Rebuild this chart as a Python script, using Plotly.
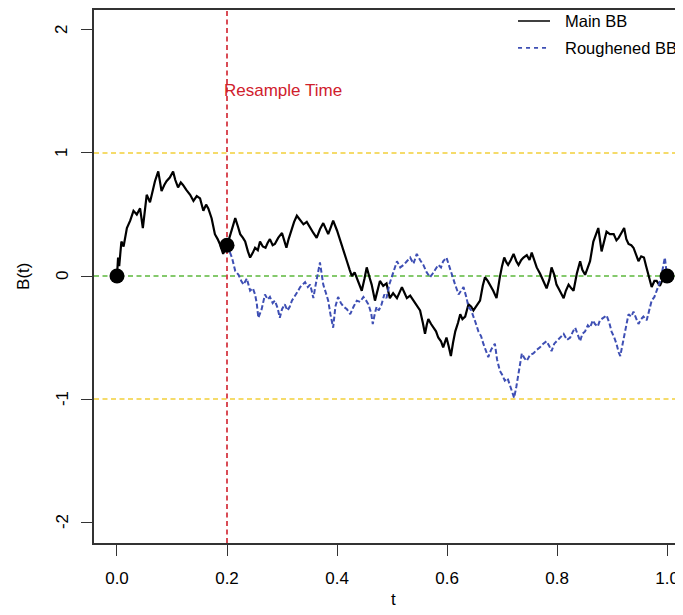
import plotly.graph_objects as go

# ---- data ----
t_main = [
    0, 0.002, 0.004, 0.008, 0.012, 0.018, 0.024, 0.03, 0.036, 0.042,
    0.047, 0.051, 0.054, 0.06, 0.065, 0.069, 0.075, 0.078, 0.081, 0.086,
    0.09, 0.096, 0.102, 0.106, 0.111, 0.116, 0.12, 0.126, 0.133, 0.139,
    0.145, 0.151, 0.157, 0.162, 0.166, 0.172, 0.178, 0.183, 0.187, 0.193,
    0.2, 0.205, 0.21, 0.215, 0.22, 0.224, 0.229, 0.233, 0.238, 0.242,
    0.247, 0.251, 0.256, 0.26, 0.265, 0.27, 0.274, 0.278, 0.283, 0.287,
    0.293, 0.3, 0.304, 0.308, 0.312, 0.317, 0.322, 0.327, 0.333, 0.339,
    0.345, 0.351, 0.357, 0.363, 0.369, 0.375, 0.38, 0.384, 0.389, 0.393,
    0.4, 0.406, 0.412, 0.418, 0.423, 0.427, 0.432, 0.436, 0.441, 0.445,
    0.45, 0.454, 0.459, 0.463, 0.469, 0.474, 0.478, 0.484, 0.49, 0.496,
    0.502, 0.509, 0.514, 0.518, 0.523, 0.527, 0.533, 0.539, 0.545, 0.551,
    0.556, 0.56, 0.563, 0.566, 0.571, 0.575, 0.58, 0.584, 0.589, 0.593,
    0.596, 0.599, 0.603, 0.607, 0.611, 0.615, 0.62, 0.624, 0.628, 0.633,
    0.639, 0.644, 0.648, 0.654, 0.66, 0.665, 0.669, 0.674, 0.678, 0.684,
    0.69, 0.693, 0.696, 0.7, 0.704, 0.708, 0.711, 0.716, 0.721, 0.726,
    0.73, 0.735, 0.739, 0.745, 0.75, 0.754, 0.758, 0.763, 0.769, 0.775,
    0.781, 0.786, 0.79, 0.795, 0.799, 0.805, 0.812, 0.816, 0.821, 0.826,
    0.83, 0.836, 0.842, 0.846, 0.851, 0.856, 0.86, 0.866, 0.871, 0.875,
    0.881, 0.886, 0.89, 0.896, 0.903, 0.908, 0.912, 0.917, 0.922, 0.926,
    0.93, 0.935, 0.939, 0.944, 0.948, 0.953, 0.958, 0.962, 0.966, 0.969,
    0.972, 0.977, 0.981, 0.987, 0.993, 1.0,
]
b_main = [
    0, 0.15, 0.08, 0.28, 0.24, 0.39, 0.45, 0.53, 0.50, 0.55,
    0.39, 0.52, 0.66, 0.60, 0.70, 0.77, 0.85, 0.78, 0.69, 0.74,
    0.77, 0.80, 0.85, 0.78, 0.72, 0.76, 0.74, 0.70, 0.66, 0.61,
    0.65, 0.63, 0.53, 0.58, 0.55, 0.47, 0.34, 0.30, 0.26, 0.18,
    0.25, 0.32, 0.40, 0.47, 0.40, 0.34, 0.31, 0.28, 0.20, 0.15,
    0.19, 0.23, 0.21, 0.28, 0.24, 0.23, 0.27, 0.30, 0.25, 0.26,
    0.31, 0.35, 0.29, 0.23, 0.30, 0.37, 0.44, 0.49, 0.45, 0.42,
    0.44, 0.39, 0.35, 0.31, 0.38, 0.43, 0.38, 0.34, 0.40, 0.45,
    0.37, 0.28, 0.20, 0.12, 0.05, 0.00, 0.03, -0.02, -0.08, -0.12,
    -0.02, 0.07, -0.01, -0.07, -0.20, -0.10, -0.04, -0.08, -0.06, -0.18,
    -0.14, -0.18, -0.13, -0.09, -0.14, -0.18, -0.16, -0.20, -0.24, -0.28,
    -0.38, -0.47, -0.40, -0.35, -0.39, -0.42, -0.45, -0.50, -0.53, -0.58,
    -0.54, -0.50, -0.57, -0.65, -0.54, -0.45, -0.38, -0.31, -0.35, -0.33,
    -0.23, -0.25, -0.28, -0.24, -0.20, -0.08, -0.01, -0.04, -0.07, -0.12,
    -0.18, -0.08, -0.01, 0.08, 0.15, 0.11, 0.09, 0.13, 0.18, 0.12,
    0.09, 0.13, 0.15, 0.17, 0.13, 0.19, 0.14, 0.07, 0.02, -0.04,
    -0.10, -0.03, 0.07, 0.01, -0.07, -0.12, -0.18, -0.12, -0.07, -0.10,
    -0.12, 0.02, 0.12, 0.05, 0.01, 0.07, 0.12, 0.28, 0.35, 0.39,
    0.20, 0.28, 0.36, 0.34, 0.34, 0.29, 0.31, 0.35, 0.39, 0.30,
    0.26, 0.25, 0.23, 0.17, 0.12, 0.16, 0.15, 0.08, 0.01, -0.05,
    -0.09, -0.04, -0.04, -0.08, -0.02, 0.0,
]

t_rough = [
    0.2, 0.205, 0.209, 0.215, 0.221, 0.226, 0.23, 0.236, 0.242, 0.247,
    0.251, 0.254, 0.257, 0.263, 0.269, 0.274, 0.278, 0.283, 0.287, 0.292,
    0.296, 0.3, 0.305, 0.31, 0.314, 0.318, 0.323, 0.328, 0.333, 0.338,
    0.342, 0.347, 0.351, 0.354, 0.357, 0.36, 0.363, 0.366, 0.369, 0.372,
    0.375, 0.38, 0.384, 0.388, 0.393, 0.397, 0.402, 0.407, 0.412, 0.418,
    0.424, 0.43, 0.436, 0.442, 0.448, 0.453, 0.457, 0.462, 0.465, 0.469,
    0.472, 0.476, 0.481, 0.486, 0.49, 0.495, 0.499, 0.504, 0.509, 0.515,
    0.521, 0.527, 0.533, 0.539, 0.545, 0.551, 0.557, 0.563, 0.569, 0.574,
    0.578, 0.584, 0.589, 0.593, 0.599, 0.604, 0.608, 0.614, 0.621, 0.626,
    0.63, 0.635, 0.639, 0.644, 0.648, 0.652, 0.657, 0.662, 0.666, 0.671,
    0.675, 0.68, 0.684, 0.687, 0.691, 0.696, 0.7, 0.705, 0.71, 0.714,
    0.718, 0.722, 0.726, 0.73, 0.733, 0.736, 0.741, 0.745, 0.751, 0.757,
    0.763, 0.769, 0.775, 0.781, 0.786, 0.79, 0.795, 0.799, 0.805, 0.812,
    0.818, 0.824, 0.829, 0.833, 0.838, 0.842, 0.846, 0.851, 0.856, 0.86,
    0.865, 0.869, 0.874, 0.878, 0.884, 0.89, 0.895, 0.899, 0.904, 0.908,
    0.912, 0.915, 0.918, 0.921, 0.926, 0.93, 0.935, 0.939, 0.944, 0.948,
    0.953, 0.957, 0.963, 0.968, 0.972, 0.977, 0.981, 0.986, 0.99, 0.993,
    0.996, 1.0,
]
b_rough = [
    0.25, 0.20, 0.15, 0.04, 0.01, -0.04, -0.07, -0.02, -0.12, -0.10,
    -0.15, -0.22, -0.34, -0.27, -0.15, -0.19, -0.17, -0.22, -0.20, -0.26,
    -0.34, -0.27, -0.23, -0.28, -0.25, -0.20, -0.17, -0.13, -0.09, -0.07,
    -0.05, -0.09, -0.07, -0.12, -0.18, -0.10, -0.03, 0.04, 0.11, 0.02,
    -0.07, -0.14, -0.20, -0.31, -0.42, -0.25, -0.17, -0.22, -0.25, -0.27,
    -0.31, -0.25, -0.20, -0.21, -0.17, -0.20, -0.23, -0.30, -0.39, -0.30,
    -0.25, -0.28, -0.23, -0.15, -0.18, -0.07, -0.01, 0.06, 0.12, 0.07,
    0.09, 0.12, 0.15, 0.10, 0.18, 0.13, 0.09, 0.03, -0.01, 0.02,
    0.05, 0.09, 0.07, 0.12, 0.15, 0.08, 0.01, -0.06, -0.15, -0.11,
    -0.09, -0.17, -0.25, -0.28, -0.34, -0.38, -0.45, -0.49, -0.55, -0.62,
    -0.66, -0.60, -0.57, -0.55, -0.68, -0.77, -0.80, -0.85, -0.83, -0.89,
    -0.94, -0.99, -0.90, -0.80, -0.70, -0.63, -0.67, -0.69, -0.64, -0.63,
    -0.60, -0.58, -0.55, -0.53, -0.57, -0.61, -0.55, -0.53, -0.50, -0.47,
    -0.52, -0.50, -0.45, -0.42, -0.48, -0.53, -0.47, -0.45, -0.40, -0.42,
    -0.36, -0.39, -0.41, -0.36, -0.34, -0.32, -0.38, -0.45, -0.50, -0.55,
    -0.62, -0.65, -0.58, -0.50, -0.40, -0.31, -0.33, -0.29, -0.34, -0.39,
    -0.35, -0.33, -0.36, -0.27, -0.20, -0.17, -0.12, -0.06, 0.01, 0.08,
    0.15, 0.0,
]

t_points = [0.0, 0.2, 1.0]
b_points = [0.0, 0.25, 0.0]

resample_t = 0.2
h_levels = [1, -1]
x_ticks = [0.0, 0.2, 0.4, 0.6, 0.8, 1.0]
x_tick_labels = ["0.0", "0.2", "0.4", "0.6", "0.8", "1.0"]
y_ticks = [-2, -1, 0, 1, 2]
y_tick_labels = ["-2", "-1", "0", "1", "2"]
legend_labels = ["Main BB", "Roughened BB"]

FONT = "Liberation Sans, Arial, Helvetica, sans-serif"
YELLOW = "#F2CF3A"
GREEN = "#5CB83C"
RED = "#D0202C"
BLUE = "#3E4FB4"
AXIS = "#333333"

fig = go.Figure()

# reference lines
for lv in h_levels:
    fig.add_hline(y=lv, line=dict(color=YELLOW, width=1.6, dash="5px,3.5px"), layer="below")
fig.add_hline(y=0, line=dict(color=GREEN, width=1.6, dash="5px,3.5px"), layer="below")
fig.add_vline(x=resample_t, line=dict(color=RED, width=1.6, dash="5px,3.5px"), layer="below")

main_line = dict(color="black", width=2.2)
rough_line = dict(color=BLUE, width=2.0, dash="5px,2.5px")

fig.add_trace(go.Scatter(
    x=t_main, y=b_main, mode="lines", name=legend_labels[0], line=main_line,
))
fig.add_trace(go.Scatter(
    x=t_rough, y=b_rough, mode="lines", name=legend_labels[1], line=rough_line,
))
fig.add_trace(go.Scatter(
    x=t_points, y=b_points, mode="markers", showlegend=False,
    marker=dict(color="black", size=15),
))

# legend drawn R-style (no box), inside the top-right corner
leg_rows = [0.9794, 0.929]
leg_styles = [dict(color="black", width=1.6), dict(color=BLUE, width=1.6, dash="4px,4px")]
for lab, yy, st in zip(legend_labels, leg_rows, leg_styles):
    fig.add_shape(type="line", xref="paper", yref="paper",
                  x0=0.7199, x1=0.7742, y0=yy, y1=yy, line=st)
    fig.add_annotation(
        x=0.7965, y=yy, xref="paper", yref="paper", text=lab,
        showarrow=False, xanchor="left", yanchor="middle",
        font=dict(family=FONT, size=16.5, color="black"),
    )

fig.add_annotation(
    x=0.191, y=1.506, xref="x", yref="y", text="Resample Time",
    showarrow=False, xanchor="left", yanchor="middle",
    font=dict(family=FONT, size=17, color=RED),
)
# axis titles
fig.add_annotation(
    x=0.508, y=-0.1065, xref="paper", yref="paper", text="t",
    showarrow=False, xanchor="center", yanchor="middle",
    font=dict(family=FONT, size=17, color="black"),
)
fig.add_annotation(
    x=-0.119, y=0.501, xref="paper", yref="paper", text="B(t)",
    showarrow=False, xanchor="center", yanchor="middle", textangle=-90,
    font=dict(family=FONT, size=17, color="black"),
)
# rotated y tick labels (R style)
for v, lab in zip(y_ticks, y_tick_labels):
    fig.add_annotation(
        x=-0.0543, y=v, xref="paper", yref="y", text=lab,
        showarrow=False, xanchor="center", yanchor="middle", textangle=-90,
        font=dict(family=FONT, size=17, color="black"),
    )

fig.update_layout(
    width=675, height=607,
    margin=dict(l=86, r=0, t=0, b=72),
    paper_bgcolor="white", plot_bgcolor="white",
    font=dict(family=FONT, size=17, color="black"),
    showlegend=False,
    xaxis=dict(
        range=[-0.0418, 1.029], tickvals=x_ticks, ticktext=x_tick_labels,
        showgrid=False, zeroline=False, showline=True, mirror=True,
        linecolor=AXIS, linewidth=1.5, ticks="outside", ticklen=11,
        tickwidth=1.3, tickcolor=AXIS, ticklabelstandoff=8,
    ),
    yaxis=dict(
        range=[-2.17, 2.162], tickvals=y_ticks, showticklabels=False,
        showgrid=False, zeroline=False, showline=True, mirror=False,
        linecolor=AXIS, linewidth=1.5, ticks="outside", ticklen=11,
        tickwidth=1.3, tickcolor=AXIS,
    ),
)

fig.write_html("out.html")
